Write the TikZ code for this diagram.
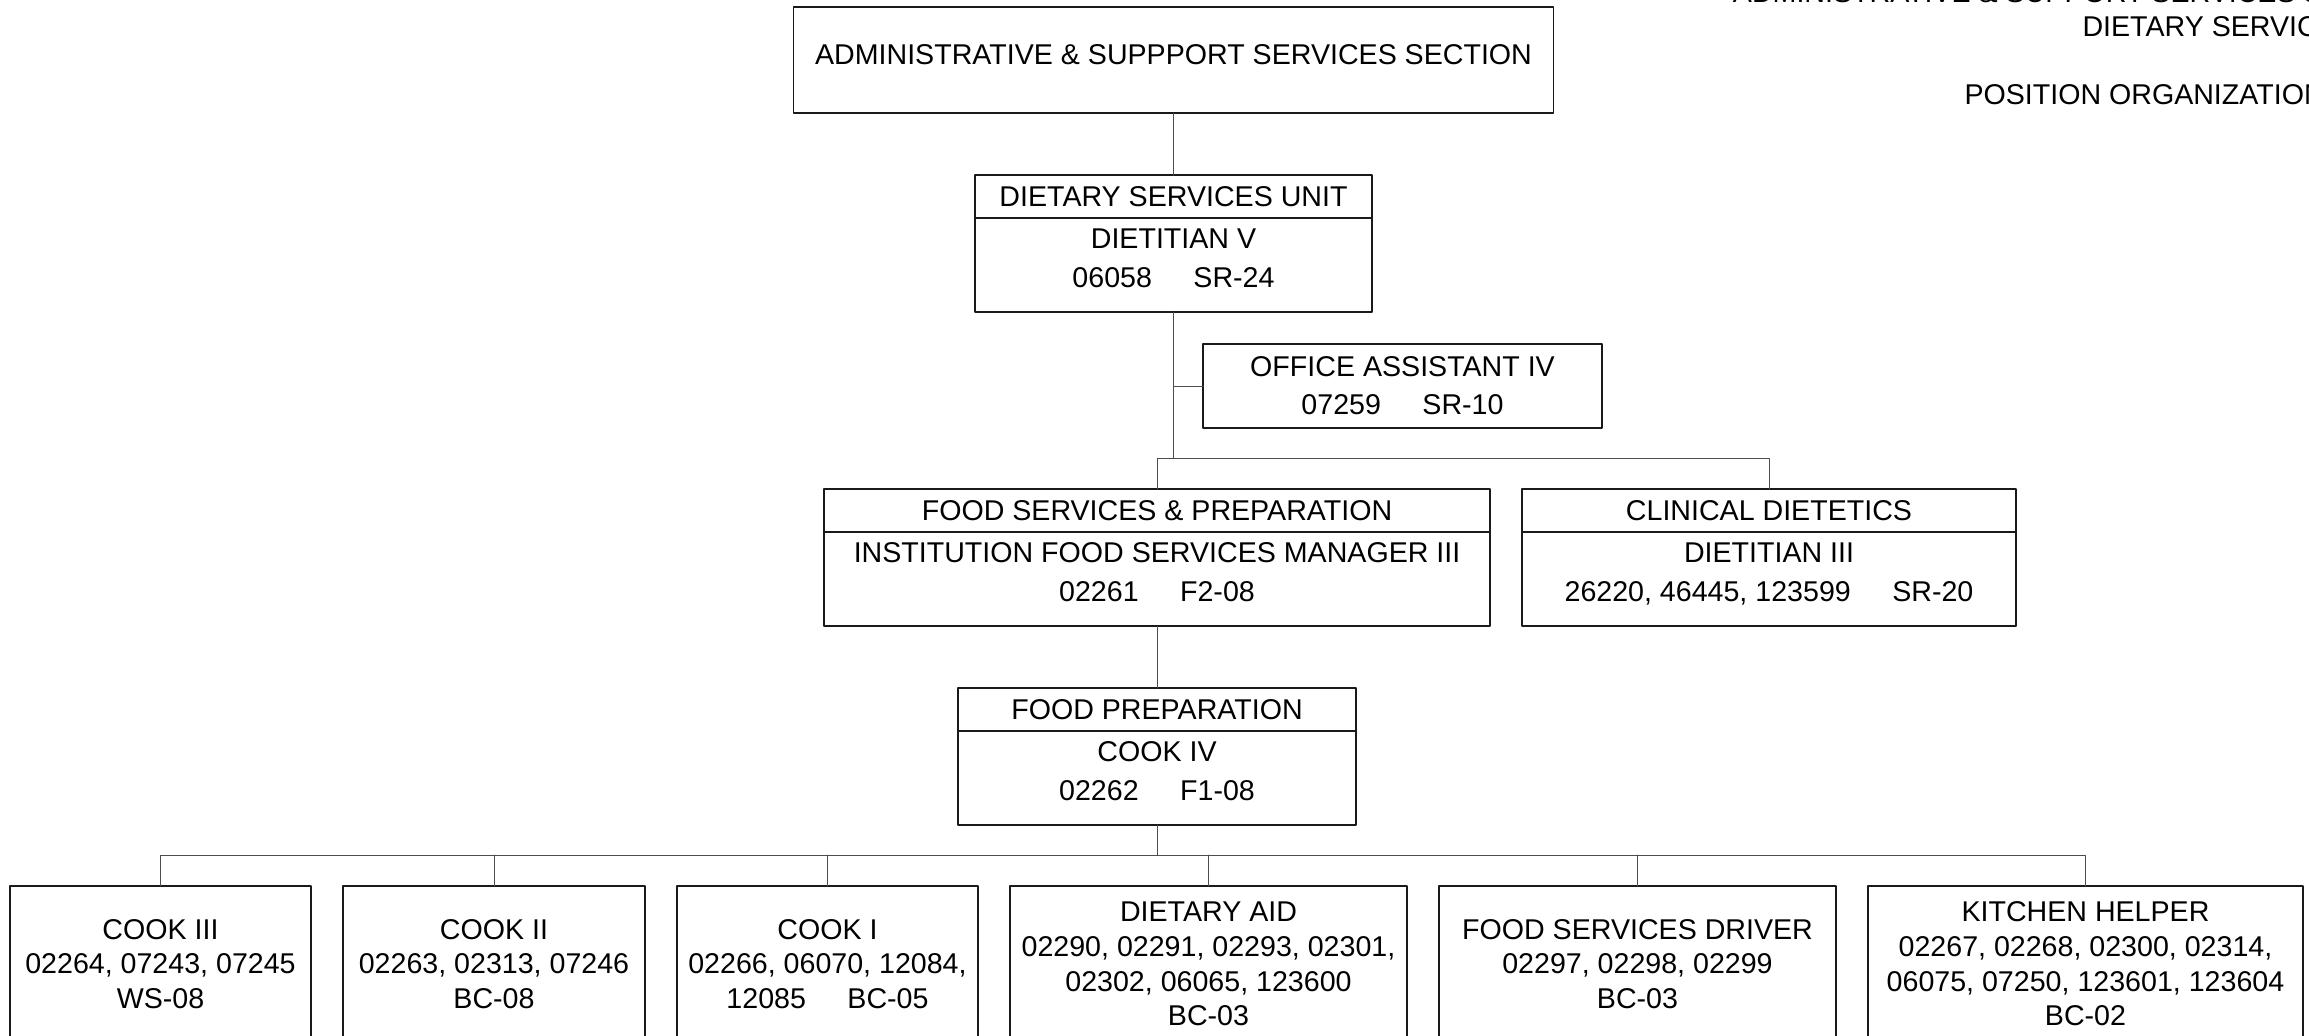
\documentclass[tikz,border=0pt]{standalone}
\usepackage{fontspec}
\setmainfont{Liberation Sans}
\usepackage{tikz}
\usetikzlibrary{positioning}
\usepackage{xcolor}
\definecolor{frame}{HTML}{1A1A1A}
\definecolor{wire}{HTML}{4D4D4D}
\newcommand{\gradegap}{\hspace{1.45em}}
\tikzset{
  cellbox/.style={draw=frame,line width=0.6pt,outer sep=0pt,inner sep=0pt,
                  align=center},
  headbox/.style={cellbox,minimum height=21.5pt},
  postbox/.style={cellbox,minimum height=47pt,text depth=7pt,
                  font=\fontsize{14.3}{19.5}\selectfont},
  leafbox/.style={cellbox,minimum height=78pt,
                  font=\fontsize{14.3}{17.3}\selectfont},
  link/.style={draw=wire,line width=0.5pt}
}

\begin{document}
\begin{tikzpicture}[x=0.5pt,y=-0.5pt,line cap=round,line join=round,
                    font=\fontsize{14.3}{17}\selectfont]
  \useasboundingbox (0,0) rectangle (2309,1035);

  % Chart title, runs off the page edge
  \node[anchor=north east,align=right,inner sep=0pt] (title) at (2431,-18)
    {ADMINISTRATIVE \& SUPPORT SERVICES SECTION\\
     DIETARY SERVICES UNIT\\[17pt]
     POSITION ORGANIZATION CHART};

  % Section
  \node[cellbox,minimum width=380pt,minimum height=53pt,text depth=5pt]
    (section) at (1173.5,60)
    {ADMINISTRATIVE \& SUPPPORT SERVICES SECTION};

  % Unit head
  \node[headbox,minimum width=198.5pt] (unit) at (1173.5,196.5)
    {DIETARY SERVICES UNIT};
  \node[postbox,minimum width=198.5pt,below=0pt of unit] (unitpost)
    {DIETITIAN V\\06058\gradegap SR-24};
  \node[cellbox,minimum width=199.5pt,minimum height=42pt,
        font=\fontsize{14.3}{19}\selectfont] (clerk) at (1402.5,386)
    {OFFICE ASSISTANT IV\\07259\gradegap SR-10};
  \coordinate (hub) at (1173.5,458);

  % Second level
  \node[headbox,minimum width=333pt] (food) at (1157,510.5)
    {FOOD SERVICES \& PREPARATION};
  \node[postbox,minimum width=333pt,below=0pt of food] (foodpost)
    {INSTITUTION FOOD SERVICES MANAGER III\\02261\gradegap F2-08};
  \node[headbox,minimum width=247pt] (clinic) at (1769,510.5)
    {CLINICAL DIETETICS};
  \node[postbox,minimum width=247pt,below=0pt of clinic] (clinicpost)
    {DIETITIAN III\\26220, 46445, 123599\gradegap SR-20};

  % Kitchen
  \node[headbox,minimum width=199pt] (prep) at (1157,709.5)
    {FOOD PREPARATION};
  \node[postbox,minimum width=199pt,below=0pt of prep] (preppost)
    {COOK IV\\02262\gradegap F1-08};
  \coordinate (hub2) at (1157,855);

  % Staff row
  \node[leafbox,anchor=north,minimum width=150.5pt] (cookthree) at (160.5,886)
    {COOK III\\02264, 07243, 07245\\WS-08};
  \node[leafbox,minimum width=151pt,right=16pt of cookthree] (cooktwo)
    {COOK II\\02263, 02313, 07246\\BC-08};
  \node[leafbox,minimum width=150.5pt,right=16pt of cooktwo] (cookone)
    {COOK I\\02266, 06070, 12084,\\12085\gradegap BC-05};
  \node[leafbox,minimum width=198.5pt,right=16pt of cookone] (aid)
    {DIETARY AID\\02290, 02291, 02293, 02301,\\02302, 06065, 123600\\BC-03};
  \node[leafbox,minimum width=198.5pt,right=16pt of aid] (driver)
    {FOOD SERVICES DRIVER\\02297, 02298, 02299\\BC-03};
  \node[leafbox,minimum width=217.5pt,right=16pt of driver] (helper)
    {KITCHEN HELPER\\02267, 02268, 02300, 02314,\\06075, 07250, 123601, 123604\\BC-02};

  \draw[link] (section.south) -- (unit.north);
  \draw[link] (unitpost.south) -- (hub);
  \draw[link] (clerk.west) -- (clerk.west -| unitpost.south);
  \draw[link] (food.north) |- (hub) -| (clinic.north);
  \draw[link] (foodpost.south) -- (prep.north);
  \draw[link] (preppost.south) -- (hub2);
  \draw[link] (cookthree.north) |- (hub2) -| (helper.north);
  \draw[link] (cooktwo.north) -- (cooktwo.north |- hub2);
  \draw[link] (cookone.north) -- (cookone.north |- hub2);
  \draw[link] (aid.north) -- (aid.north |- hub2);
  \draw[link] (driver.north) -- (driver.north |- hub2);
\end{tikzpicture}
\end{document}
